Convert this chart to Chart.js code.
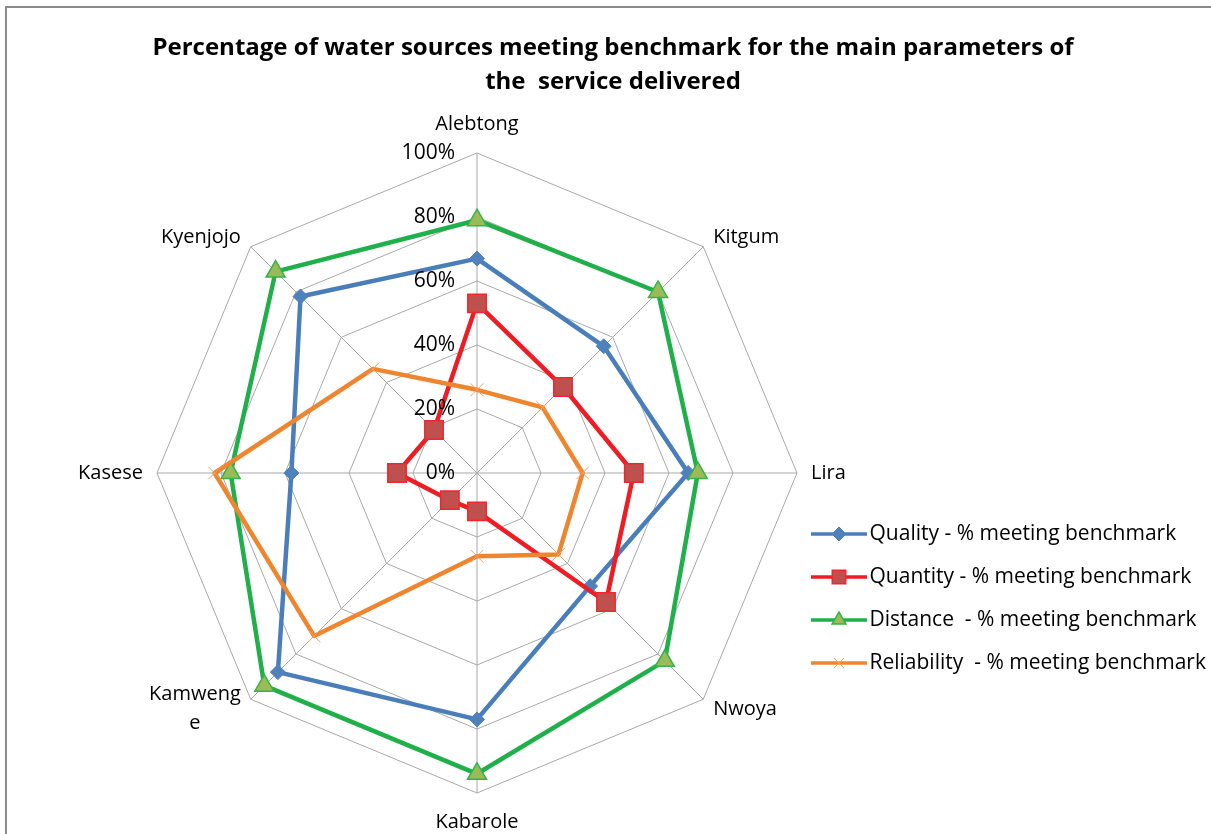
<!DOCTYPE html>
<html>
<head>
<meta charset="utf-8">
<title>Water sources meeting benchmark</title>
<script src="https://cdn.jsdelivr.net/npm/chart.js@4.4.1/dist/chart.umd.min.js"></script>
<style>
  html, body { margin: 0; padding: 0; background: #fff; }
  #wrap { position: relative; width: 1211px; height: 834px; overflow: hidden; }
  #frame {
    position: absolute; left: 5px; top: 6px; width: 1230px; height: 850px;
    border: 2px solid #8a8a8a; pointer-events: none;
  }
</style>
</head>
<body>
<div id="wrap">
  <div id="frame"></div>
  <canvas id="radar"></canvas>
</div>
<script>
/* ── data ─────────────────────────────────────────────────────────────── */

const districts   = ['Alebtong', 'Kitgum', 'Lira', 'Nwoya', 'Kabarole', ['Kamweng', 'e'], 'Kasese', 'Kyenjojo'];
const quality     = [67, 56, 66, 50, 77, 88, 58, 78];
const quantity    = [53, 38, 49, 57, 12, 12, 25, 19];
const distance    = [79, 80, 69, 83, 94, 94, 77, 89];
const reliability = [26, 29, 33, 36, 26, 72, 82, 46];
const tickValues  = [0, 20, 40, 60, 80, 100];

const TITLE = ['Percentage of water sources meeting benchmark for the main parameters of',
               'the  service delivered'];

const FONT = "'Open Sans', 'Liberation Sans', sans-serif";

/* ── series styles ────────────────────────────────────────────────────── */

function series(label, data, line, style, radius, fill, edge, edgeWidth, order) {
  return {
    label, data, order,
    borderColor:          line,
    backgroundColor:      fill,
    borderWidth:          4.5,
    borderJoinStyle:      'round',
    fill:                 false,
    tension:              0,
    pointStyle:           style,
    pointRadius:          radius,
    pointHoverRadius:     radius,
    pointBackgroundColor: fill,
    pointBorderColor:     edge,
    pointBorderWidth:     edgeWidth,
  };
}

const datasets = [
  series('Quality - % meeting benchmark',      quality,     '#4a7ebb', 'rectRot',  7.5, '#4f81bd', '#4f81bd', 1,   4),
  series('Quantity - % meeting benchmark',     quantity,    '#ee1c24', 'rect',     13,  '#c0504d', '#f0262c', 1.5, 3),
  series('Distance  - % meeting benchmark',    distance,    '#1fb04a', 'triangle', 11,  '#9bbb59', '#35b44a', 1.5, 2),
  series('Reliability  - % meeting benchmark', reliability, '#ee8630', 'crossRot', 9,   '#f7a060', '#f7a060', 1,   1),
];

/* legend swatch: short line with the series marker in the middle */
function legendIcon(ds) {
  const c = document.createElement('canvas');
  c.width = 56; c.height = 20;
  const g = c.getContext('2d');
  g.strokeStyle = ds.borderColor;
  g.lineWidth = 3.5;
  g.beginPath(); g.moveTo(0, 10); g.lineTo(56, 10); g.stroke();
  g.fillStyle = ds.pointBackgroundColor;
  g.strokeStyle = ds.pointBorderColor;
  g.lineWidth = ds.pointBorderWidth;
  Chart.helpers.drawPoint(g, {
    pointStyle: ds.pointStyle,
    radius: ds.pointStyle === 'rect' ? 9.5 : ds.pointStyle === 'triangle' ? 8 : 7,
    rotation: 0,
    borderWidth: ds.pointBorderWidth,
  }, 28, 10);
  return c;
}
const icons = datasets.map(legendIcon);

/* ── text around the web: title, district names, % ticks ─────────────── */

const chartText = {
  id: 'chartText',
  afterDatasetsDraw(chart) {
    const r = chart.scales.r;
    const ctx = chart.ctx;
    ctx.save();
    ctx.fillStyle = '#000';
    ctx.textBaseline = 'middle';

    // title sits above the layout padding, centred over web + legend
    ctx.font = 'bold 24px ' + FONT;
    ctx.textAlign = 'center';
    TITLE.forEach((line, k) => ctx.fillText(line, 613, 48 + k * 34));

    ctx.font = '20px ' + FONT;
    districts.forEach((name, i) => {
      const lines = Array.isArray(name) ? name : [name];
      const p  = r.getPointPosition(i, r.drawingArea + 14);
      const dx = p.x - r.xCenter;
      const dy = p.y - r.yCenter;
      let y = p.y;
      if (Math.abs(dx) < 1) y += dy < 0 ? -15 : 15;
      const blockW = Math.max(...lines.map(l => ctx.measureText(l).width));
      const left   = Math.abs(dx) < 1 ? p.x - blockW / 2 : dx > 0 ? p.x : p.x - blockW;
      lines.forEach((l, k) => {
        ctx.fillText(l, left + blockW / 2, y + (k - (lines.length - 1) / 2) * 29);
      });
    });

    ctx.font = '21px ' + FONT;
    ctx.textAlign = 'right';
    tickValues.forEach(v => {
      const p = r.getPointPositionForValue(0, v);
      ctx.fillText(v + '%', p.x - 22, p.y);
    });
    ctx.restore();
  },
};

/* ── chart ────────────────────────────────────────────────────────────── */

new Chart(document.getElementById('radar'), {
  type: 'radar',
  data: { labels: districts, datasets },
  plugins: [chartText],
  options: {
    responsive:          true,
    maintainAspectRatio: false,
    animation:           false,
    events:              [],
    layout: { padding: { left: 157, right: 0, top: 153, bottom: 41 } },
    scales: {
      r: {
        min: 0,
        max: 100,
        ticks:       { stepSize: 20, display: false },
        pointLabels: { display: false },
        grid:        { color: '#a9a9a9', lineWidth: 1 },
        angleLines:  { color: '#a9a9a9', lineWidth: 1 },
      },
    },
    plugins: {
      title: { display: false },
      legend: {
        position: 'right',
        align:    'start',
        fullSize: false,
        maxWidth: 414,
        // empty title only pushes the entries down beside the lower half of the web
        title:    { display: true, text: '', font: { size: 10, lineHeight: 1 }, padding: { top: 0, bottom: 338.5 } },
        labels: {
          color:           '#000',
          font:            { family: FONT, size: 21 },
          padding:         22,
          usePointStyle:   true,
          pointStyleWidth: 40,
          sort:            (a, b) => a.datasetIndex - b.datasetIndex,
          generateLabels(chart) {
            const items = Chart.defaults.plugins.legend.labels.generateLabels(chart);
            items.forEach(it => { it.pointStyle = icons[it.datasetIndex]; });
            return items;
          },
        },
      },
      tooltip: { enabled: false },
    },
  },
});
</script>
</body>
</html>
